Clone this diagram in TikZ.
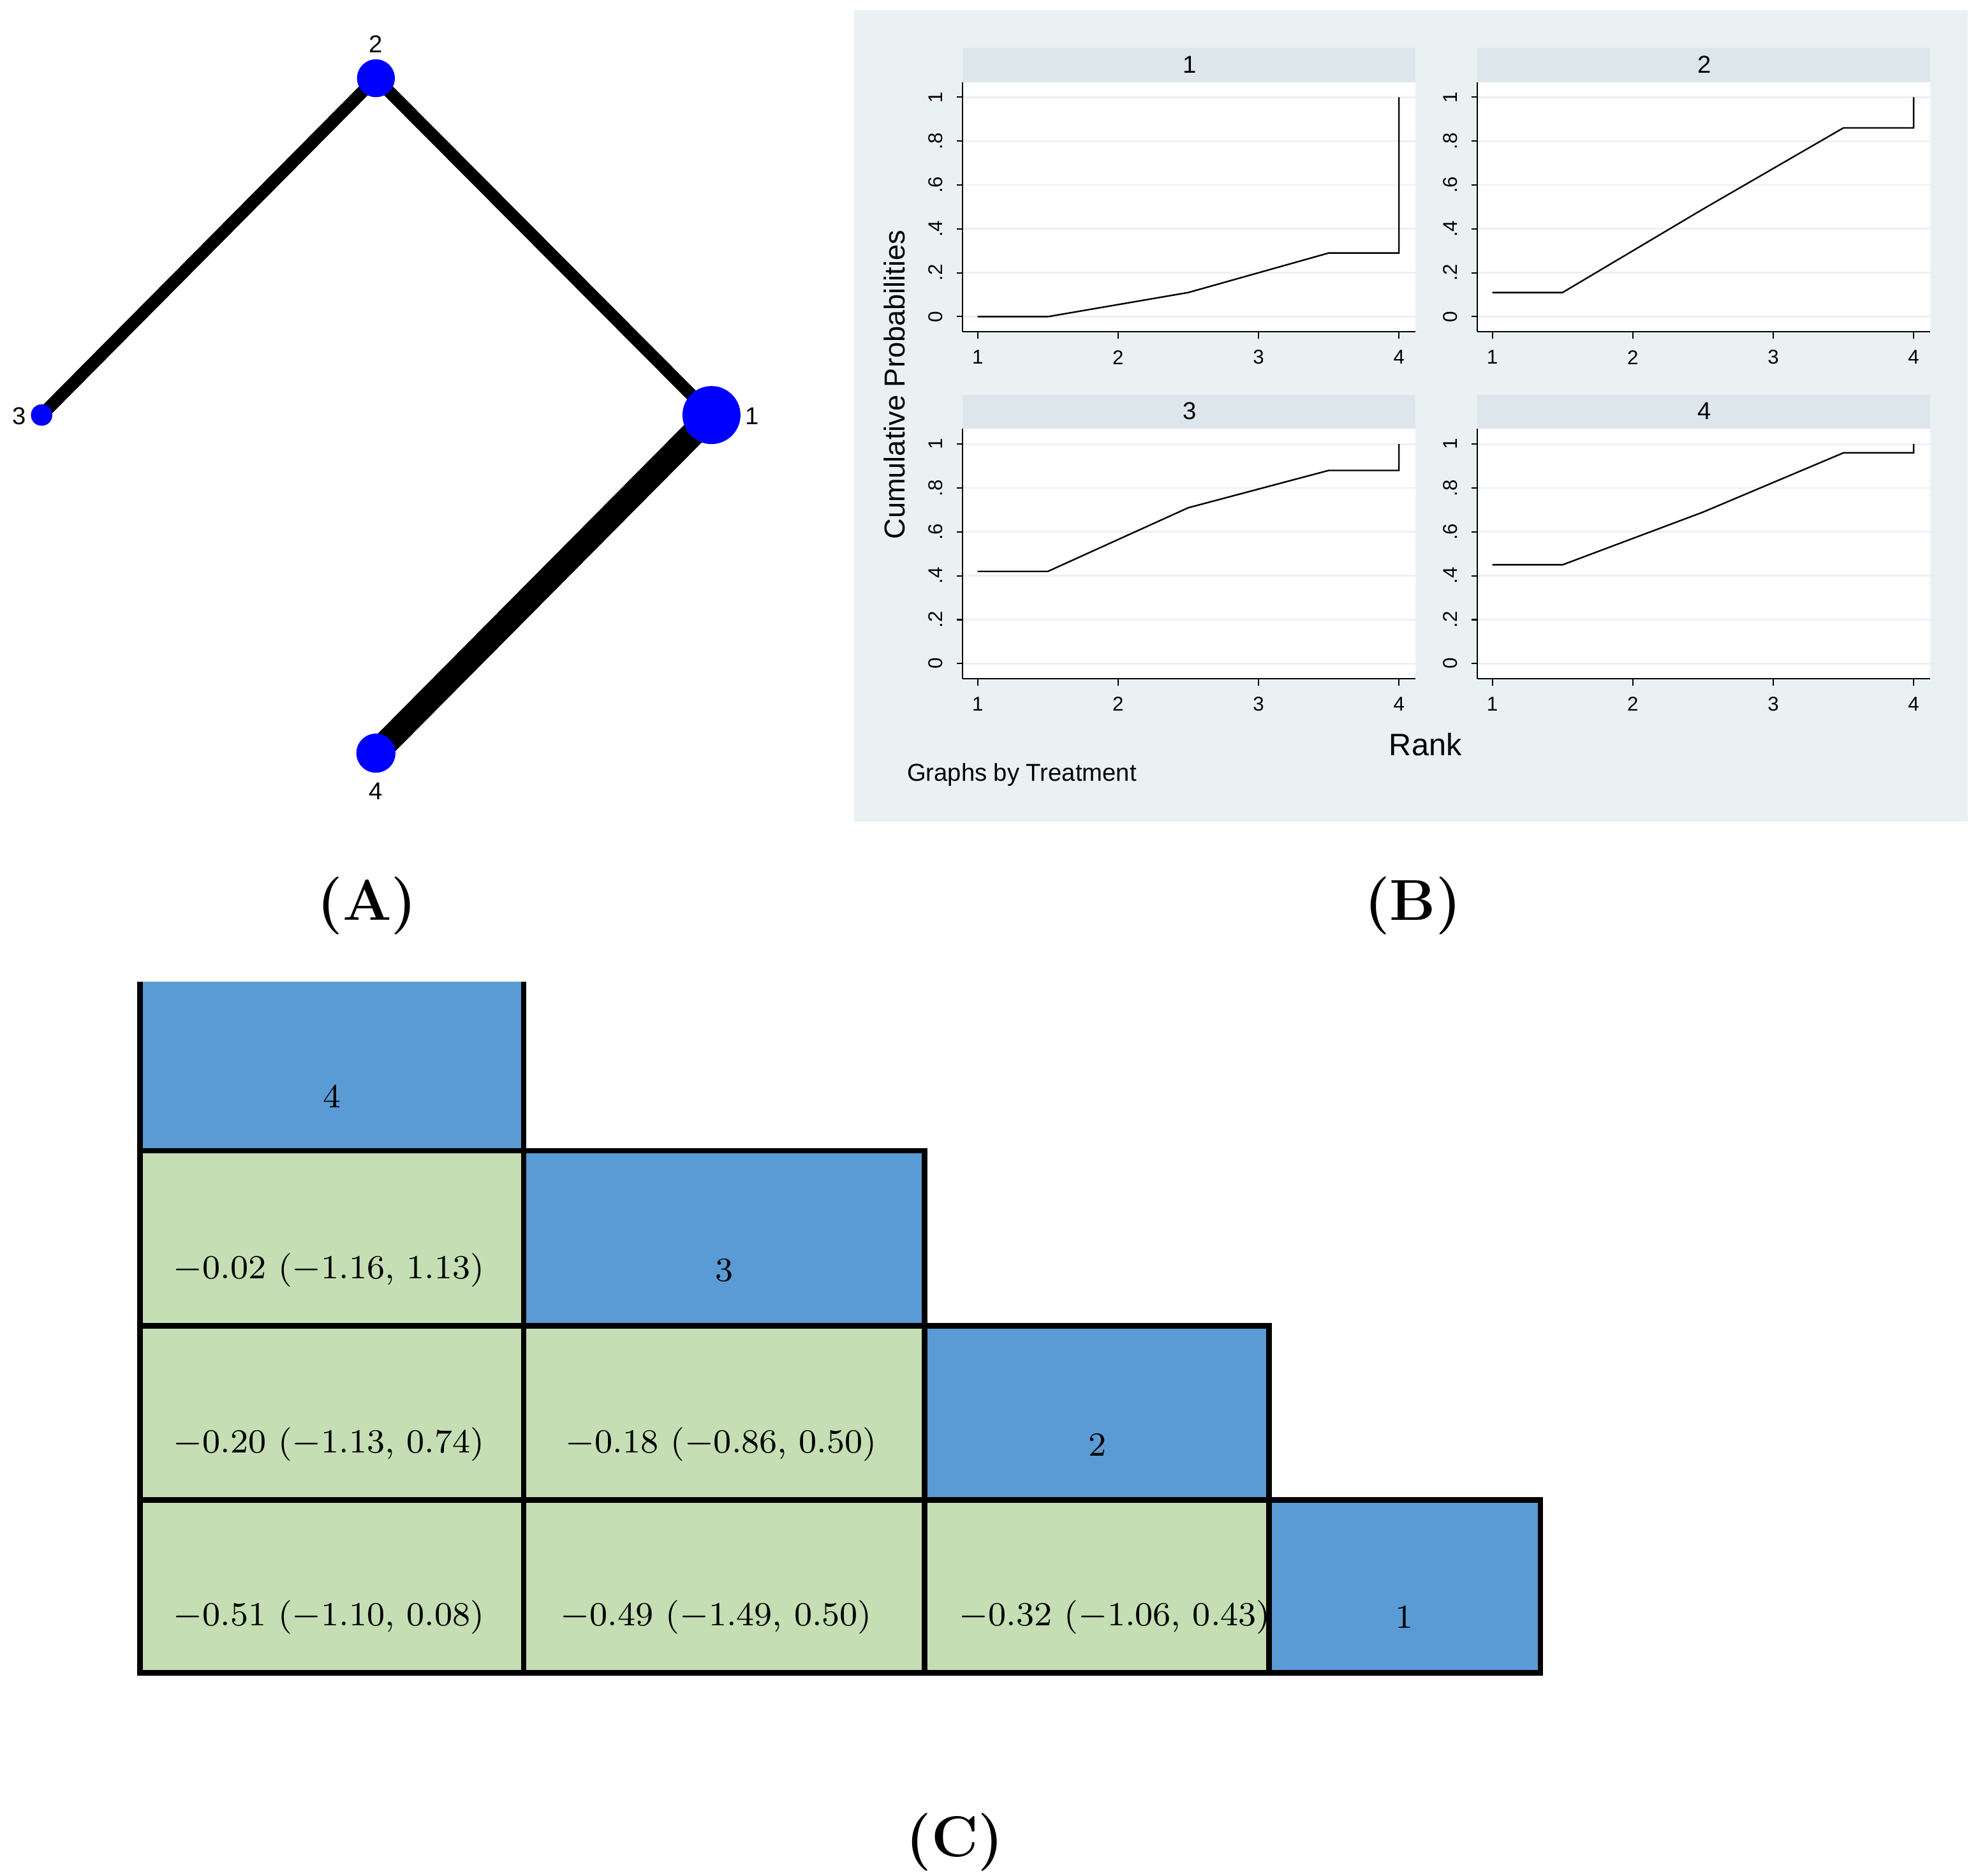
\documentclass[tikz,border=0pt]{standalone}
\usepackage{fontspec}
\newfontfamily\plotfont{Liberation Sans}
\definecolor{nodeblue}{RGB}{0,0,255}
\definecolor{bgB}{RGB}{234,241,243}
\definecolor{stripB}{RGB}{220,230,235}
\definecolor{cellblue}{RGB}{91,155,213}
\definecolor{cellgreen}{RGB}{197,222,179}
\begin{document}
\begin{tikzpicture}[x=0.1mm,y=-0.1mm,
  edge/.style={line width=#1, black},
  vert/.style={circle, fill=nodeblue, inner sep=0pt, minimum size=#1},
  vlab/.style={font=\plotfont\fontsize{5.5}{6}\selectfont},
  panlab/.style={font=\bfseries\fontsize{13}{15}\selectfont},
  blue cell/.style={fill=cellblue},
  green cell/.style={fill=cellgreen},
  celltxt/.style={font=\fontsize{7.6}{9}\selectfont, anchor=west},
  numtxt/.style={font=\fontsize{7.6}{9}\selectfont},
  tick/.style={font=\plotfont\fontsize{4.5}{5}\selectfont},
  curve/.style={black, line width=0.35pt}]
\useasboundingbox (0,0) rectangle (1568,1487);
% Panel A
\coordinate (n2) at (298,62);
\coordinate (n3) at (33,329);
\coordinate (n1) at (564,329);
\coordinate (n4) at (298,597);
\draw[edge=2.8pt] (n3) -- (n2);
\draw[edge=2.8pt] (n2) -- (n1);
\draw[edge=5.6pt] (n1) -- (n4);
\node[vert=3mm] (v2) at (n2) {};
\node[vert=1.7mm] (v3) at (n3) {};
\node[vert=4.6mm] (v1) at (n1) {};
\node[vert=3.1mm] (v4) at (n4) {};
\node[vlab] at (298,35) {2};
\node[vlab] at (15,330) {3};
\node[vlab] at (596,330) {1};
\node[vlab] at (298,627) {4};
\node[panlab] (la) at (291,718) {(A)};
% Panel B
\fill[bgB] (677,8) rectangle (1560,651);
\foreach \px/\py/\t/\a/\b/\c in {763/38/1/0/0.11/0.29, 1171/38/2/0.11/0.49/0.86, 763/313/3/0.42/0.71/0.88, 1171/313/4/0.45/0.69/0.96}{
  \fill[stripB] (\px,\py) rectangle ++(359,27);
  \node[font=\plotfont\fontsize{5.5}{6}\selectfont] at (\px+180,\py+13) {\t};
  \fill[white] (\px,\py+27) rectangle ++(359,198);
  \begin{scope}[shift={(\px+12,\py+213)}, x=11.133mm, y=17.4mm]
    \foreach \v/\l in {0/0,0.2/.2,0.4/.4,0.6/.6,0.8/.8,1/1}{
      \draw[bgB, line width=0.4pt] (-0.108,\v) -- (3.117,\v);
      \draw[line width=0.3pt] (-0.108,\v) -- (-0.15,\v);
      \node[tick, rotate=90] at (-0.3,\v) {\l};
    }
    \foreach \r in {0,1,2,3}{
      \draw[line width=0.3pt] (\r,-0.069) -- (\r,-0.1);
      \node[tick] at (\r,-0.185) {\the\numexpr\r+1\relax};
    }
    \draw[line width=0.3pt] (-0.108,-0.069) -- (-0.108,1.069);
    \draw[line width=0.3pt] (-0.108,-0.069) -- (3.117,-0.069);
    \draw[curve] (0,\a) -- (0.5,\a) -- (1.5,\b) -- (2.5,\c) -- (3,\c) -- (3,1);
  \end{scope}
}
\node[font=\plotfont\fontsize{6.5}{7}\selectfont, rotate=90] at (709,305) {Cumulative Probabilities};
\node[font=\plotfont\fontsize{7}{8}\selectfont] at (1130,590) {Rank};
\node[font=\plotfont\fontsize{5.5}{6}\selectfont] at (810,614) {Graphs by Treatment};
\node[panlab] (lb) at (1120,718) {(B)};
% Panel C
\def\xa{111}\def\xb{415}\def\xc{733}\def\xd{1006}\def\xe{1221}
\def\ya{778}\def\yb{912}\def\yc{1051}\def\yd{1189}\def\ye{1326}
\fill[blue cell] (\xa,\ya) rectangle (\xb,\yb);
\draw[line width=1.2pt] (\xa,\ya) -- (\xa,\yb) -- (\xb,\yb) -- (\xb,\ya);
\foreach \x/\y/\X/\Y in {\xb/\yb/\xc/\yc, \xc/\yc/\xd/\yd, \xd/\yd/\xe/\ye}{
  \draw[blue cell, draw=black, line width=1.2pt] (\x,\y) rectangle (\X,\Y);}
\foreach \x/\y/\X/\Y in {\xa/\yb/\xb/\yc, \xa/\yc/\xb/\yd, \xb/\yc/\xc/\yd, \xa/\yd/\xb/\ye, \xb/\yd/\xc/\ye, \xc/\yd/\xd/\ye}{
  \draw[green cell, draw=black, line width=1.2pt] (\x,\y) rectangle (\X,\Y);}
\node[numtxt] (c4) at (263,869) {4};
\node[numtxt] (c3) at (574,1007) {3};
\node[numtxt] (c2) at (870,1145) {2};
\node[numtxt] (c1) at (1113,1282) {1};
\node[celltxt] (g1) at (125,1007) {$-$0.02 ($-$1.16, 1.13)};
\node[celltxt] (g2) at (125,1145) {$-$0.20 ($-$1.13, 0.74)};
\node[celltxt] (g3) at (436,1145) {$-$0.18 ($-$0.86, 0.50)};
\node[celltxt] (g4) at (125,1282) {$-$0.51 ($-$1.10, 0.08)};
\node[celltxt] (g5) at (432,1282) {$-$0.49 ($-$1.49, 0.50)};
\node[celltxt] (g6) at (748,1282) {$-$0.32 ($-$1.06, 0.43)};
\node[panlab] (lc) at (757,1460) {(C)};
\end{tikzpicture}
\end{document}
